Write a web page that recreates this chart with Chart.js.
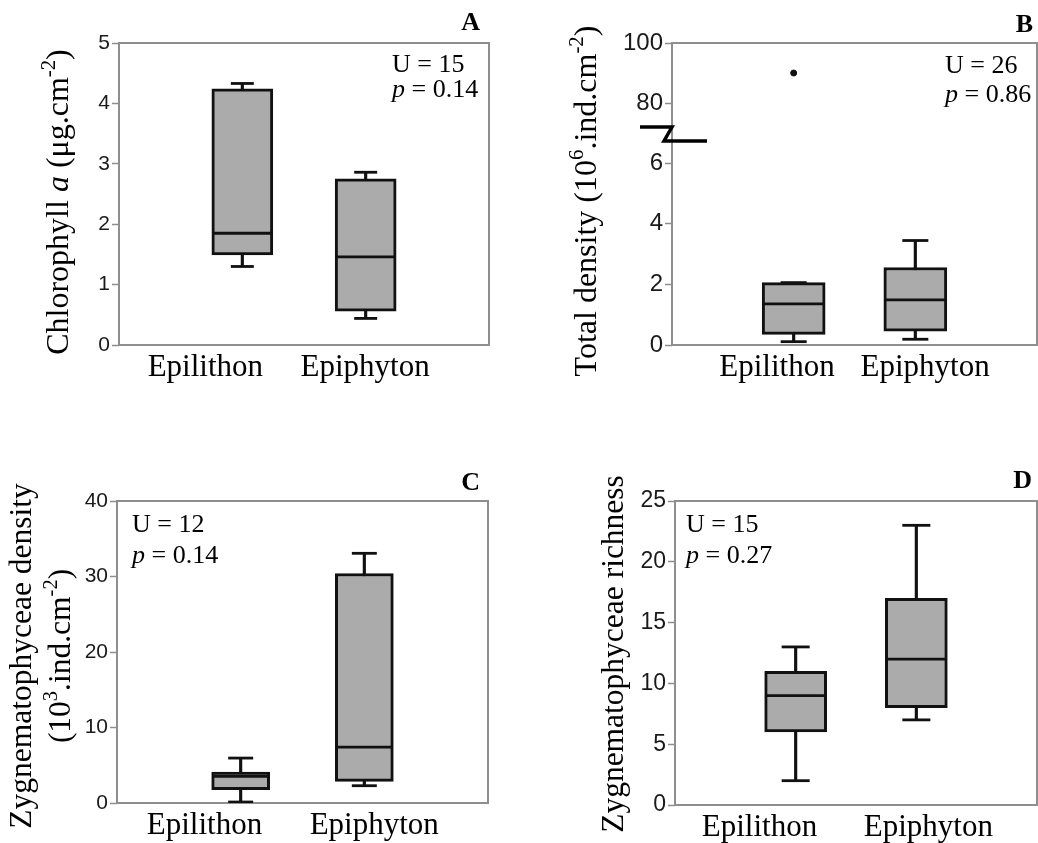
<!DOCTYPE html>
<html>
<head>
<meta charset="utf-8">
<script src="https://cdn.jsdelivr.net/npm/chart.js@4.4.1/dist/chart.umd.min.js"></script>
<style>
  html, body { margin: 0; padding: 0; background: #fff; width: 1038px; height: 843px; overflow: hidden; }
  canvas { position: absolute; }
</style>
</head>
<body>
<canvas id="chartA" width="519" height="420" style="left:0;top:0"></canvas>
<canvas id="chartB" width="530" height="420" style="left:519px;top:0"></canvas>
<canvas id="chartC" width="519" height="423" style="left:0;top:420px"></canvas>
<canvas id="chartD" width="530" height="423" style="left:519px;top:420px"></canvas>
<script>
const SERIF = "'Liberation Serif', 'Times New Roman', serif";
const SANS = "'Liberation Sans', Arial, sans-serif";

const groups = ['Epilithon', 'Epiphyton'];

// A - chlorophyll a
const chlMin = [1.30, 0.44];
const chlQ1 = [1.49, 0.56];
const chlMed = [1.85, 1.46];
const chlQ3 = [4.24, 2.75];
const chlMax = [4.33, 2.86];
const chlTicks = [0, 1, 2, 3, 4, 5];

// B - total density (broken axis)
const densMin = [0.11, 0.19];
const densQ1 = [0.35, 0.46];
const densMed = [1.36, 1.49];
const densQ3 = [2.06, 2.56];
const densMax = [2.06, 3.45];
const densOutlier = [90, null];
const densTicksLow = [0, 2, 4, 6];
const densTicksHigh = [80, 100];

// C - Zygnematophyceae density
const zygMin = [0.13, 2.29];
const zygQ1 = [1.76, 2.86];
const zygMed = [3.52, 7.4];
const zygQ3 = [4.1, 30.4];
const zygMax = [5.95, 33.07];
const zygTicks = [0, 10, 20, 30, 40];

// D - Zygnematophyceae richness
const richMin = [2, 7];
const richQ1 = [6, 8];
const richMed = [9, 12];
const richQ3 = [11, 17];
const richMax = [13, 23];
const richTicks = [0, 5, 10, 15, 20, 25];

const stats = [
    ['15', '0.14'],
    ['26', '0.86'],
    ['12', '0.14'],
    ['15', '0.27']
];

function fontOf(p, size) {
    const s = p.sup ? size * 0.65 : size;
    return (p.italic ? 'italic ' : '') + (p.bold ? 'bold ' : '') + s + 'px ' + SERIF;
}

function richText(ctx, parts, x, y, size, align) {
    let total = 0;
    parts.forEach(p => {
        ctx.font = fontOf(p, size);
        p.w = ctx.measureText(p.t).width;
        total += p.w;
    });
    let cx = align === 'center' ? x - total / 2 : (align === 'right' ? x - total : x);
    ctx.textAlign = 'left';
    ctx.textBaseline = 'alphabetic';
    parts.forEach(p => {
        ctx.font = fontOf(p, size);
        ctx.fillText(p.t, cx, p.sup ? y - size * 0.4 : y);
        cx += p.w;
    });
}

function decor(spec) {
    return {
        id: 'decor',
        beforeDatasetsDraw(chart) {
            const {ctx, chartArea: a} = chart;
            ctx.save();
            ctx.strokeStyle = '#8e8e8e';
            ctx.lineWidth = 2;
            ctx.strokeRect(a.left, a.top, a.right - a.left, a.bottom - a.top);
            ctx.restore();
        },
        afterDraw(chart) {
            const {ctx, chartArea: a} = chart;
            ctx.save();
            ctx.fillStyle = '#000';
            // axis title
            spec.title.lines.forEach((line, i) => {
                ctx.save();
                ctx.translate(spec.title.base[i], spec.title.cy);
                ctx.rotate(-Math.PI / 2);
                richText(ctx, line, 0, 0, spec.title.size, 'center');
                ctx.restore();
            });
            // test statistics
            richText(ctx, [{t: 'U = ' + spec.stat[0]}], spec.statPos[0], spec.statPos[1], 26, 'left');
            richText(ctx, [{t: 'p', italic: true}, {t: ' = ' + spec.stat[1]}], spec.statPos[0], spec.statPos[2], 26, 'left');
            // panel letter
            richText(ctx, [{t: spec.letter, bold: true}], spec.letterPos[0], spec.letterPos[1], 26, 'right');
            // axis break
            if (spec.upper) {
                const b = chart.scales.y.top;
                ctx.strokeStyle = '#000';
                ctx.lineWidth = 3.5;
                ctx.lineJoin = 'miter';
                ctx.beginPath();
                ctx.moveTo(a.left - 32, b - 6);
                ctx.lineTo(a.left, b - 6);
                ctx.lineTo(a.left - 8, b + 8);
                ctx.lineTo(a.left + 35, b + 8);
                ctx.stroke();
            }
            ctx.restore();
        }
    };
}

function makePanel(id, spec) {
    const xs = groups.map((g, i) => i + 1);
    const canvas = document.getElementById(id);
    const W = canvas.width, H = canvas.height;
    const datasets = [
        {
            type: 'bar', label: 'whisker', yAxisID: 'y', order: 3,
            data: xs.map((x, i) => ({x, y: [spec.min[i], spec.max[i]]})),
            backgroundColor: '#111', borderWidth: 0, barThickness: 2.5, grouped: false
        },
        {
            type: 'bar', label: 'box', yAxisID: 'y', order: 2,
            data: xs.map((x, i) => ({x, y: [spec.q1[i], spec.q3[i]]})),
            backgroundColor: '#ababab', borderColor: '#111', borderWidth: 3,
            borderSkipped: false, barThickness: spec.boxWidth, grouped: false
        },
        {
            type: 'line', label: 'caps', yAxisID: 'y', order: 1, showLine: false,
            data: xs.map((x, i) => ({x, y: spec.min[i]})).concat(xs.map((x, i) => ({x, y: spec.max[i]}))),
            pointStyle: 'line', pointRadius: spec.capRadius,
            pointBorderColor: '#111', pointBorderWidth: 2.8, borderColor: '#111'
        },
        {
            type: 'line', label: 'median', yAxisID: 'y', order: 1, showLine: false,
            data: xs.map((x, i) => ({x, y: spec.med[i]})),
            pointStyle: 'line', pointRadius: spec.boxWidth / 2 - 1,
            pointBorderColor: '#111', pointBorderWidth: 2.8, borderColor: '#111'
        }
    ];

    const yTickOpts = {
        padding: 2, color: '#1a1a1a',
        font: {family: SANS, size: spec.tickSize}
    };
    const yGrid = {
        display: true, drawOnChartArea: false, drawTicks: true,
        tickLength: 7, tickColor: '#8e8e8e', tickWidth: 1.5
    };
    const fitY = s => {
        s.width = spec.area.left;
        s.paddingTop = 0;
        s.paddingBottom = 0;
    };

    const scales = {
        x: {
            type: 'linear', min: 0, max: 3, offset: false,
            grid: {display: false, drawTicks: false},
            border: {display: false},
            afterBuildTicks: axis => { axis.ticks = spec.labelAt.map(v => ({value: v})); },
            afterFit: s => {
                s.height = H - spec.area.bottom;
                s.paddingLeft = 0;
                s.paddingRight = 0;
            },
            ticks: {
                autoSkip: false, maxRotation: 0, padding: 4, color: '#000',
                font: {family: SERIF, size: 31},
                callback: (v, i) => groups[i]
            }
        },
        y: {
            type: 'linear', position: 'left', min: spec.yMin, max: spec.yMax,
            grid: yGrid, border: {display: false},
            afterBuildTicks: axis => { axis.ticks = spec.ticks.map(v => ({value: v})); },
            afterFit: fitY,
            ticks: yTickOpts
        }
    };

    if (spec.upper) {
        scales.y.stack = 'left';
        scales.y.stackWeight = spec.lowerWeight;
        scales.y2 = {
            type: 'linear', position: 'left', min: spec.upper.min, max: spec.upper.max,
            stack: 'left', stackWeight: spec.upper.weight,
            grid: yGrid, border: {display: false},
            afterBuildTicks: axis => { axis.ticks = spec.upper.ticks.map(v => ({value: v})); },
            afterFit: fitY,
            ticks: yTickOpts
        };
        datasets.push({
            type: 'line', label: 'outlier', yAxisID: 'y2', order: 0, showLine: false,
            data: xs.map((x, i) => ({x, y: spec.upper.outliers[i]})).filter(p => p.y !== null),
            pointStyle: 'circle', pointRadius: 3,
            pointBackgroundColor: '#111', pointBorderColor: '#111', borderColor: '#111'
        });
    }

    return new Chart(canvas, {
        type: 'bar',
        data: {datasets},
        options: {
            responsive: false,
            animation: false,
            events: [],
            layout: {
                autoPadding: false,
                padding: {top: spec.area.top, right: W - spec.area.right, left: 0, bottom: 0}
            },
            plugins: {legend: {display: false}, tooltip: {enabled: false}},
            scales
        },
        plugins: [decor(spec)]
    });
}

makePanel('chartA', {
    min: chlMin, q1: chlQ1, med: chlMed, q3: chlQ3, max: chlMax,
    ticks: chlTicks, yMin: 0, yMax: 5,
    boxWidth: 61, capRadius: 11.5, tickSize: 21,
    labelAt: [0.70, 1.995],
    area: {left: 119, top: 43, right: 489, bottom: 345},
    title: {
        lines: [[{t: 'Chlorophyll '}, {t: 'a', italic: true}, {t: ' (μg.cm'}, {t: '-2', sup: true}, {t: ')'}]],
        base: [68], cy: 202, size: 32
    },
    stat: stats[0], statPos: [392, 72, 97],
    letter: 'A', letterPos: [480, 30]
});

makePanel('chartB', {
    min: densMin, q1: densQ1, med: densMed, q3: densQ3, max: densMax,
    ticks: densTicksLow, yMin: 0, yMax: 7, lowerWeight: 212,
    upper: {min: 70, max: 100, weight: 90, ticks: densTicksHigh, outliers: densOutlier},
    boxWidth: 63, capRadius: 13, tickSize: 24,
    labelAt: [0.863, 2.08],
    area: {left: 153, top: 43, right: 518, bottom: 345},
    title: {
        lines: [[{t: 'Total density (10'}, {t: '6', sup: true}, {t: '.ind.cm'}, {t: '-2', sup: true}, {t: ')'}]],
        base: [77], cy: 201, size: 32
    },
    stat: stats[1], statPos: [426, 73, 102],
    letter: 'B', letterPos: [514, 32]
});

makePanel('chartC', {
    min: zygMin, q1: zygQ1, med: zygMed, q3: zygQ3, max: zygMax,
    ticks: zygTicks, yMin: 0, yMax: 40,
    boxWidth: 58, capRadius: 12.5, tickSize: 21,
    labelAt: [0.707, 2.08],
    area: {left: 117, top: 81, right: 488, bottom: 383},
    title: {
        lines: [
            [{t: 'Zygnematophyceae density'}],
            [{t: '(10'}, {t: '3', sup: true}, {t: '.ind.cm'}, {t: '-2', sup: true}, {t: ')'}]
        ],
        base: [31, 70], cy: 236, size: 31.5
    },
    stat: stats[2], statPos: [132, 112, 143],
    letter: 'C', letterPos: [480, 70]
});

makePanel('chartD', {
    min: richMin, q1: richQ1, med: richMed, q3: richQ3, max: richMax,
    ticks: richTicks, yMin: 0, yMax: 25,
    boxWidth: 62, capRadius: 14, tickSize: 23,
    labelAt: [0.70, 2.10],
    area: {left: 156, top: 81, right: 518, bottom: 385},
    title: {
        lines: [[{t: 'Zygnematophyceae richness'}]],
        base: [104], cy: 234, size: 31.5
    },
    stat: stats[3], statPos: [167, 112, 143],
    letter: 'D', letterPos: [513, 68]
});
</script>
</body>
</html>
